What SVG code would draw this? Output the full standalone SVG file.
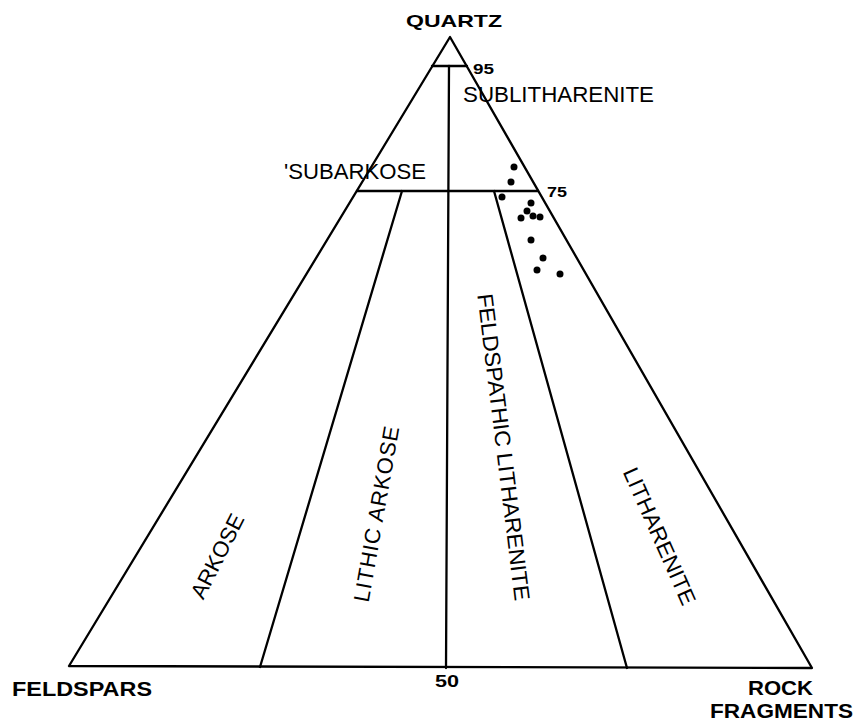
<svg xmlns="http://www.w3.org/2000/svg" width="858" height="722" viewBox="0 0 858 722">
<style>
.ln{stroke:#000;stroke-width:2.3;fill:none;stroke-linecap:round;stroke-linejoin:round}
.lbl{font-family:"Liberation Sans",Arial,sans-serif;font-size:22px;fill:#000}
.b{font-family:"Liberation Sans",Arial,sans-serif;font-weight:bold;fill:#000}
.dot{fill:#000}
</style>
<rect width="858" height="722" fill="#fff"/>
<g id="connectors">
<path class="ln" d="M450,37 L69,666 L812,668 Z"/>
<line class="ln" x1="432" y1="66" x2="467" y2="66"/>
<line class="ln" x1="449" y1="66" x2="446" y2="668"/>
<line class="ln" x1="357" y1="191" x2="538" y2="191"/>
<line class="ln" x1="402" y1="191" x2="260" y2="667"/>
<line class="ln" x1="494" y1="191" x2="627" y2="668"/>
</g>
<g id="apex-quartz"><text class="b" x="406" y="27" font-size="17" textLength="96" lengthAdjust="spacingAndGlyphs">QUARTZ</text></g>
<g id="corner-feldspars"><text class="b" x="12" y="696" font-size="21" textLength="140" lengthAdjust="spacingAndGlyphs">FELDSPARS</text></g>
<g id="corner-rock-fragments">
<text class="b" x="748" y="695" font-size="20" textLength="65" lengthAdjust="spacingAndGlyphs">ROCK</text>
<text class="b" x="710" y="718" font-size="20" textLength="143" lengthAdjust="spacingAndGlyphs">FRAGMENTS</text>
</g>
<g id="ticks">
<text class="b" x="473" y="74" font-size="15" textLength="21" lengthAdjust="spacingAndGlyphs">95</text>
<text class="b" x="547" y="197" font-size="15" textLength="20" lengthAdjust="spacingAndGlyphs">75</text>
<text class="b" x="435" y="687" font-size="16" textLength="24" lengthAdjust="spacingAndGlyphs">50</text>
</g>
<g id="field-sublitharenite"><text class="lbl" x="463" y="102" textLength="191" lengthAdjust="spacingAndGlyphs">SUBLITHARENITE</text></g>
<g id="field-subarkose"><text class="lbl" x="284" y="179" textLength="142" lengthAdjust="spacingAndGlyphs">'SUBARKOSE</text></g>
<g id="field-arkose"><text class="lbl" transform="translate(217,556) rotate(-63)" x="0" y="8" text-anchor="middle" textLength="92" lengthAdjust="spacingAndGlyphs">ARKOSE</text></g>
<g id="field-lithic-arkose"><text class="lbl" transform="translate(376,514) rotate(-80)" x="0" y="8" text-anchor="middle" textLength="178" lengthAdjust="spacing">LITHIC ARKOSE</text></g>
<g id="field-feldspathic-litharenite"><text class="lbl" transform="translate(504,447) rotate(83)" x="0" y="8" text-anchor="middle" textLength="309" lengthAdjust="spacingAndGlyphs">FELDSPATHIC LITHARENITE</text></g>
<g id="field-litharenite"><text class="lbl" transform="translate(660,536) rotate(66)" x="0" y="8" text-anchor="middle" textLength="148" lengthAdjust="spacingAndGlyphs">LITHARENITE</text></g>
<g id="samples">
<circle class="dot" cx="514" cy="167" r="3.5"/>
<circle class="dot" cx="511" cy="182" r="3.5"/>
<circle class="dot" cx="502" cy="197" r="3.5"/>
<circle class="dot" cx="531" cy="203" r="3.5"/>
<circle class="dot" cx="527" cy="211" r="3.5"/>
<circle class="dot" cx="521" cy="218" r="3.5"/>
<circle class="dot" cx="533" cy="216" r="3.5"/>
<circle class="dot" cx="540" cy="217" r="3.5"/>
<circle class="dot" cx="531" cy="240" r="3.5"/>
<circle class="dot" cx="543" cy="258" r="3.5"/>
<circle class="dot" cx="537" cy="270" r="3.5"/>
<circle class="dot" cx="560" cy="274" r="3.5"/>
</g>
</svg>
